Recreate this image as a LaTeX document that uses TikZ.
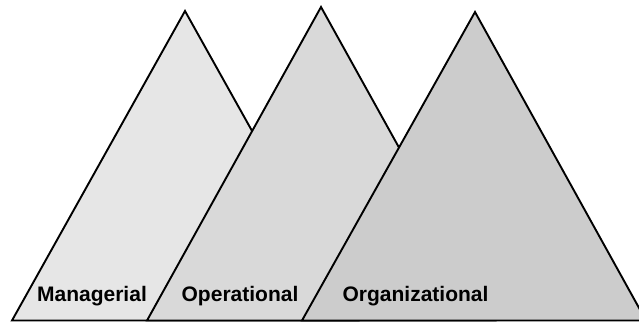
\documentclass[tikz,border=0pt]{standalone}
\usepackage{fontspec}
\setmainfont{Liberation Sans}
\begin{document}
\begin{tikzpicture}[x=1pt,y=-1pt,
  tri/.style={draw=black,line width=1.9pt,line join=miter},
  lbl/.style={font=\fontsize{21}{24}\selectfont\bfseries,inner sep=0pt,anchor=base}]
\useasboundingbox (0,0) rectangle (639,322);
% Managerial
\coordinate (a1) at (185,11);
\coordinate (l1) at (12,320.5);
\coordinate (r1) at (358,320.5);
\filldraw[tri,fill={rgb,255:red,230;green,230;blue,230}] (l1) -- (a1) -- (r1) -- cycle;
% Operational
\coordinate (a2) at (321,7);
\coordinate (l2) at (147,320.5);
\coordinate (r2) at (495,320.5);
\filldraw[tri,fill={rgb,255:red,217;green,217;blue,217}] (l2) -- (a2) -- (r2) -- cycle;
% Organizational
\coordinate (a3) at (475,12);
\coordinate (l3) at (302,320.5);
\coordinate (r3) at (646,320.5);
\filldraw[tri,fill={rgb,255:red,204;green,204;blue,204}] (l3) -- (a3) -- (r3) -- cycle;
\node[lbl] (m) at (92,301) {Managerial};
\node[lbl] (o) at (240,301) {Operational};
\node[lbl] (g) at (415.5,301) {Organizational};
\end{tikzpicture}
\end{document}
